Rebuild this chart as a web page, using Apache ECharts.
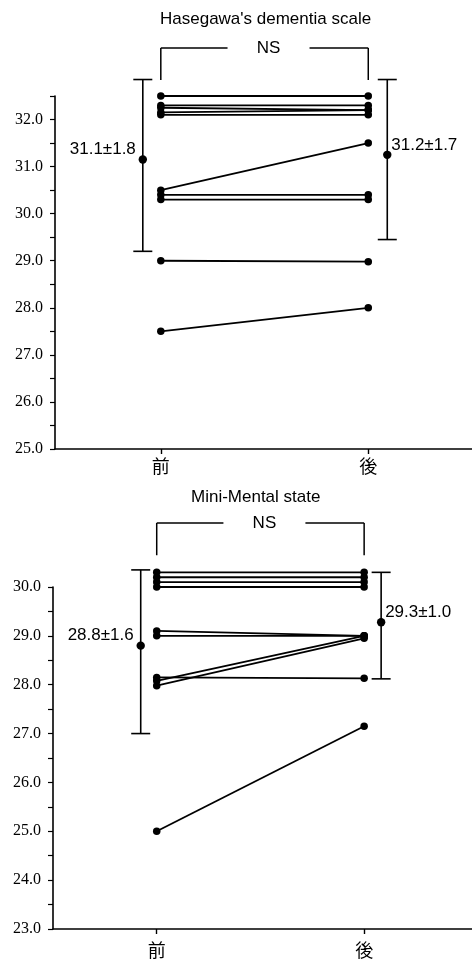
<!DOCTYPE html>
<html><head><meta charset="utf-8">
<script src="https://cdn.jsdelivr.net/npm/echarts@6/dist/echarts.min.js"></script>
<style>html,body{margin:0;padding:0;background:#fff}#c{width:472px;height:962px}</style>
</head><body><div id="c"></div>
<script>
// ---- data ----
const categories = ['前', '後'];
const titles = ["Hasegawa's dementia scale", 'Mini-Mental state'];
const sigLabel = 'NS';

// Hasegawa's dementia scale, per subject (before / after)
const hdsPre  = [32.5, 32.3, 32.25, 32.15, 32.1, 30.5, 30.4, 30.3, 29.0, 27.5];
const hdsPost = [32.5, 32.3, 32.2, 32.2, 32.1, 31.5, 30.4, 30.3, 28.98, 28.0];
const hdsMean = [31.15, 31.25];
const hdsLow  = [29.2, 29.45];
const hdsHigh = [32.85, 32.85];
const hdsLabels = ['31.1±1.8', '31.2±1.7'];
const hdsTicks = [25, 26, 27, 28, 29, 30, 31, 32];
const hdsBracket = [33.52, 32.84];

// Mini-Mental state, per subject (before / after)
const mmsPre  = [30.3, 30.2, 30.1, 30.0, 29.1, 29.0, 28.15, 28.08, 27.98, 25.0];
const mmsPost = [30.3, 30.2, 30.1, 30.0, 29.0, 29.0, 28.13, 29.0, 28.95, 27.15];
const mmsMean = [28.8, 29.28];
const mmsLow  = [27.0, 28.12];
const mmsHigh = [30.35, 30.3];
const mmsLabels = ['28.8±1.6', '29.3±1.0'];
const mmsTicks = [23, 24, 25, 26, 27, 28, 29, 30];
const mmsBracket = [31.31, 30.65];

// ---- helpers ----
function halfTicks(t, extra) {
  const out = [];
  t.forEach(v => { out.push(v); out.push(v + 0.5); });
  return out.filter(v => v <= extra);
}

const BLACK = '#000';

function xAxis(idx, min, max, margin) {
  return {
    type: 'value', gridIndex: idx, min: min, max: max,
    axisLine: {show: true, lineStyle: {color: BLACK, width: 1.6}},
    axisTick: {show: true, customValues: [1, 2], length: 5, lineStyle: {color: BLACK, width: 1.4}},
    axisLabel: {show: true, customValues: [1, 2], formatter: v => categories[Math.round(v) - 1],
      color: BLACK, fontSize: 18, fontFamily: '"Noto Sans CJK JP"', margin: margin},
    splitLine: {show: false}
  };
}
function yAxis(idx, min, max, ticks) {
  return {
    type: 'value', gridIndex: idx, min: min, max: max, interval: 1,
    axisLine: {show: true, lineStyle: {color: BLACK, width: 1.6}},
    axisTick: {show: true, customValues: halfTicks(ticks, max), length: 5, lineStyle: {color: BLACK, width: 1.2}},
    axisLabel: {show: true, customValues: ticks, formatter: v => v.toFixed(1),
      color: BLACK, fontSize: 16, fontFamily: '"Liberation Serif"', margin: 12},
    splitLine: {show: false}
  };
}

function subjectSeries(idx, pre, post) {
  return pre.map((p, i) => ({
    type: 'line', xAxisIndex: idx, yAxisIndex: idx, silent: true, animation: false, clip: false,
    data: [[1, p], [2, post[i]]],
    symbol: 'circle', symbolSize: 7.5,
    lineStyle: {color: BLACK, width: 1.8},
    itemStyle: {color: BLACK}
  }));
}

function errSeries(idx, mean, low, high, labels, offsets) {
  return {
    type: 'custom', xAxisIndex: idx, yAxisIndex: idx, silent: true, animation: false, clip: false,
    data: mean.map((m, i) => [i + 1, m, low[i], high[i]]),
    renderItem: function (params, api) {
      const i = params.dataIndex;
      const off = offsets[i];
      const pm = api.coord([api.value(0), api.value(1)]);
      const pl = api.coord([api.value(0), api.value(2)]);
      const ph = api.coord([api.value(0), api.value(3)]);
      const x = pm[0] + off;
      const cap = 9.5;
      const st = {stroke: BLACK, lineWidth: 1.6};
      const left = off < 0;
      return {type: 'group', children: [
        {type: 'line', shape: {x1: x, y1: pl[1], x2: x, y2: ph[1]}, style: st},
        {type: 'line', shape: {x1: x - cap, y1: ph[1], x2: x + cap, y2: ph[1]}, style: st},
        {type: 'line', shape: {x1: x - cap, y1: pl[1], x2: x + cap, y2: pl[1]}, style: st},
        {type: 'circle', shape: {cx: x, cy: pm[1], r: 4.2}, style: {fill: BLACK}},
        {type: 'text', style: {text: labels[i], x: left ? x - 7 : x + 4, y: pm[1] - 10,
          align: left ? 'right' : 'left', verticalAlign: 'middle',
          font: '17px "Liberation Sans"', fill: BLACK}}
      ]};
    }
  };
}

function bracketSeries(idx, yTop, yDrop) {
  return {
    type: 'custom', xAxisIndex: idx, yAxisIndex: idx, silent: true, animation: false, clip: false,
    data: [[1, 2, yTop, yDrop]],
    renderItem: function (params, api) {
      const a = api.coord([api.value(0), api.value(2)]);
      const b = api.coord([api.value(1), api.value(2)]);
      const ad = api.coord([api.value(0), api.value(3)]);
      const mid = (a[0] + b[0]) / 2 + 4;
      const gap = 41;
      const st = {stroke: BLACK, lineWidth: 1.5};
      return {type: 'group', children: [
        {type: 'line', shape: {x1: a[0], y1: a[1], x2: mid - gap, y2: a[1]}, style: st},
        {type: 'line', shape: {x1: mid + gap, y1: a[1], x2: b[0], y2: b[1]}, style: st},
        {type: 'line', shape: {x1: a[0], y1: a[1], x2: a[0], y2: ad[1]}, style: st},
        {type: 'line', shape: {x1: b[0], y1: b[1], x2: b[0], y2: ad[1]}, style: st},
        {type: 'text', style: {text: sigLabel, x: mid, y: a[1], align: 'center', verticalAlign: 'middle',
          font: '17px "Liberation Sans"', fill: BLACK}}
      ]};
    }
  };
}

const chart = echarts.init(document.getElementById('c'), null, {renderer: 'canvas'});
chart.setOption({
  backgroundColor: '#fff',
  animation: false,
  title: [
    {text: titles[0], left: 160, top: 11, padding: 0,
      textStyle: {fontSize: 17, fontWeight: 'normal', color: BLACK, fontFamily: '"Liberation Sans"'}},
    {text: titles[1], left: 191, top: 489, padding: 0,
      textStyle: {fontSize: 17, fontWeight: 'normal', color: BLACK, fontFamily: '"Liberation Sans"'}}
  ],
  grid: [
    {left: 55, top: 96, width: 417, height: 353},
    {left: 53, top: 587, width: 419, height: 342}
  ],
  xAxis: [xAxis(0, 0.49, 2.5, 8), xAxis(1, 0.5, 2.52, 12)],
  yAxis: [yAxis(0, 25, 32.5, hdsTicks), yAxis(1, 23, 30, mmsTicks)],
  series: [
    ...subjectSeries(0, hdsPre, hdsPost),
    ...subjectSeries(1, mmsPre, mmsPost),
    errSeries(0, hdsMean, hdsLow, hdsHigh, hdsLabels, [-18, 19]),
    errSeries(1, mmsMean, mmsLow, mmsHigh, mmsLabels, [-16, 17]),
    bracketSeries(0, hdsBracket[0], hdsBracket[1]),
    bracketSeries(1, mmsBracket[0], mmsBracket[1])
  ]
});
</script>
</body></html>
